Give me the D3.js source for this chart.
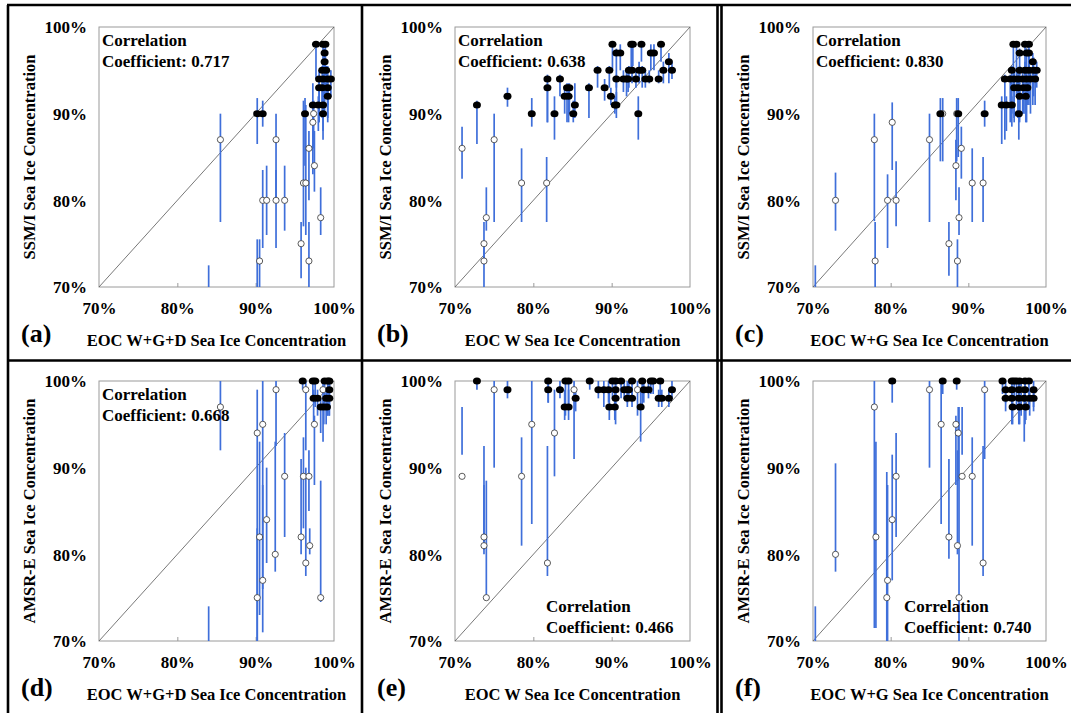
<!DOCTYPE html>
<html>
<head>
<meta charset="utf-8">
<script src="https://cdn.jsdelivr.net/npm/d3@7"></script>
<style>
  html, body { margin: 0; padding: 0; background: #fff; }
  svg { display: block; }
  text { font-family: "Liberation Serif", "Times New Roman", serif; font-weight: bold; fill: #000; }
</style>
</head>
<body>
<svg id="chart" width="1071" height="713"></svg>
<script>
// ---------- DATA ----------
// each record: [EOC concentration %, satellite concentration %, error-bar low %, error-bar high %, filled (1) / open (0)]
const tickValues = [70, 80, 90, 100];
const tickLabels = ["70%", "80%", "90%", "100%"];

const yTitles = ["SSM/I Sea Ice Concentration", "AMSR-E Sea Ice Concentration"];
const xTitles = ["EOC W+G+D Sea Ice Concentration", "EOC W Sea Ice Concentration", "EOC W+G Sea Ice Concentration"];
const panelLabels = ["(a)", "(b)", "(c)", "(d)", "(e)", "(f)"];
const correlations = ["0.717", "0.638", "0.830", "0.668", "0.466", "0.740"];

const ssmiWGD = [
  [85.5,87,77.5,90,0],[92.6,87,80,90,0],[97.4,90,86,91.5,0],[97.3,89,83,91,0],[96.8,86,80,88,0],
  [97.5,84,81,88,0],[96.1,82,77,91.5,0],[96.4,82,76,91,0],[90.9,80,74.5,83.5,0],[91.4,80,76,84,0],
  [92.6,80,74.5,83.5,0],[93.7,80,76.5,84,0],[98.3,78,76,81.5,0],[95.8,75,71,77.5,0],[90.5,73,70,75.5,0],
  [96.8,73,70,77.5,0],[84.0,68,66,72.5,0],[90.2,68,66,75.5,0],
  [90.2,90,86.5,91.8,1],[90.9,90,88.5,91.5,1],[96.3,90,84,91.8,1],[97.7,98,94,98,1],[98.6,98,95,98,1],
  [98.9,98,93,98,1],[98.8,97,92,97.5,1],[98.8,96,90,96.5,1],[98.5,95,91,95.5,1],[99.0,95,92,95.5,1],
  [98.1,94,89,95,1],[98.6,94,90,95,1],[99.2,94,91,95.5,1],[99.6,94,92,95,1],[98.1,93,89,94,1],
  [98.5,93,89.5,94,1],[99.2,93,89,94,1],[99.2,92,89.5,93,1],[97.3,91,86,93.5,1],[98.0,91,88,92,1],
  [98.6,91,87,92.5,1],[98.6,90,88,91,1]
];

const ssmiW = [
  [70.9,86,82.5,88.5,0],[75.0,87,77.5,90,0],[74.0,78,76.5,81.5,0],[73.7,75,73,77.5,0],[73.7,73,70,75,0],
  [78.5,82,77.5,86,0],[81.7,82,77.5,85,0],
  [72.8,91,86.5,91.5,1],[76.7,92,90.8,93,1],[79.8,90,88.5,91.8,1],[81.8,94,89,94.5,1],[81.8,93,89,93.5,1],
  [82.7,90,87,92,1],[83.4,94,92,94.5,1],[84.0,92,90,93,1],[84.5,92,89,93.5,1],[84.3,93,89,93.5,1],
  [84.6,93,90,93.5,1],[85.1,90,89,91.5,1],[85.3,91,89.5,93.5,1],[87.1,93,89.5,93.5,1],[88.2,95,93,95.5,1],
  [89.1,93,91.5,94,1],[89.7,95,93,95.5,1],[89.9,92,91,93,1],[90.1,98,95,98,1],[90.6,97,93,97.5,1],
  [91.1,97,95,98,1],[90.4,91,90,92,1],[90.6,91,90.5,92.5,1],[90.6,94,89.5,94.5,1],[91.5,94,92.5,95,1],
  [91.9,94,92,95,1],[92.1,94,92.5,95,1],[92.2,95,93,95.5,1],[92.6,95,93.5,96,1],[92.5,98,95,98,1],
  [92.7,98,95.5,98,1],[93.1,94,93,95,1],[93.4,90,87,92,1],[93.8,98,96,98,1],[93.5,95,93.5,96,1],
  [93.9,95,93,95.5,1],[94.3,94,93,95,1],[94.8,94,93.5,95,1],[95.0,97,95,98,1],[95.4,97,95,98,1],
  [96.0,94,93.5,95,1],[96.3,98,96,98,1],[96.6,95,93.5,96,1],[97.3,96,93.5,97,1],[97.7,95,94,96,1]
];

const ssmiWG = [
  [72.9,80,76.5,83.2,0],[77.9,87,77.6,90,0],[78.0,73,70,77.5,0],[79.6,80,74.5,83,0],[80.7,80,77,84.5,0],
  [80.2,89,83.5,91.3,0],[85.0,87,77.5,90,0],[86.7,90,84.5,91.8,0],[87.5,75,71.3,77.5,0],[88.4,84,80,87,0],
  [88.5,90,84.5,91.8,0],[88.6,73,70,75.5,0],[88.8,78,76,81.5,0],[89.1,86,82.5,88.5,0],[90.5,82,77.5,86,0],
  [91.9,82,77.5,85,0],[70.3,68,66,72.5,0],
  [86.4,90,84.5,91.8,1],[88.7,90,85,91.8,1],[92.1,90,88.5,91.5,1],[95.8,98,93,98,1],[96.2,98,92,98,1],
  [97.3,98,94,98,1],[97.8,98,95,98,1],[96.6,97,90,97.5,1],[97.5,97,92,97.5,1],[97.8,97,92,97.5,1],
  [98.3,96,91,97,1],[95.6,95,90,95.5,1],[96.6,95,89.5,95.5,1],[97.3,95,90,96,1],[97.8,95,91,96,1],
  [98.4,95,92,96.5,1],[98.8,95,93,96,1],[94.7,94,87,94.5,1],[95.4,94,89,94.5,1],[95.9,94,89,95,1],
  [96.4,94,89.5,95,1],[97.0,94,90,95,1],[97.5,94,89,95,1],[98.0,94,90,95,1],[98.6,94,91,95,1],
  [95.9,93,89.5,94,1],[96.4,93,89.5,94,1],[97.1,93,90,94,1],[97.6,93,91,94,1],[96.6,92,89,93,1],
  [97.4,92,89,93,1],[94.3,91,86.5,92,1],[94.9,91,88,92,1],[95.6,91,88.5,92,1],[96.5,90,87,91,1]
];

const amsrWGD = [
  [85.5,97,92,100,0],[90.2,94,70,99,0],[90.9,95,71,100,0],[90.5,82,73,93,0],[90.2,75,70,83,0],
  [90.9,77,76,88,0],[91.4,84,79,90,0],[92.6,99,92.5,100,0],[92.5,80,78,93,0],[93.7,89,82,94,0],
  [95.8,82,80,91,0],[96.1,89,83,93.5,0],[96.4,99,92,100,0],[96.4,79,77.5,90,0],[96.8,89,85,92,0],
  [96.9,81,80,83,0],[97.5,95,88,96,0],[98.3,75,74.5,88.5,0],[98.6,99,93,100,0],[84.0,68,66,74,0],
  [96.0,100,99,100,1],[97.3,100,98,100,1],[97.6,100,97,100,1],[98.8,100,97,100,1],[99.2,100,96,100,1],
  [99.4,100,97,100,1],[99.4,99,96,100,1],[97.4,98,95,99,1],[97.9,98,96,99,1],[99.0,98,95,99,1],
  [99.4,98,96,99,1],[98.3,97,94,98,1],[98.7,97,95,98,1],[99.1,97,96,98,1]
];

const amsrW = [
  [70.9,89,91.5,97,0],[75.0,99,90,100,0],[73.7,82,80,92.5,0],[73.7,81,80.5,88,0],[74.0,75,75,88.5,0],
  [78.5,89,81,93.5,0],[79.8,95,83.5,100,0],[81.8,79,77.5,92.5,0],[82.7,94,89,99,0],[85.2,99,91,100,0],
  [93.3,99,96,100,0],
  [72.8,100,99,100,1],[76.7,99,98,100,1],[81.9,100,97.5,100,1],[81.9,99,97.5,100,1],[83.4,99,98,100,1],
  [84.1,100,96,100,1],[84.5,100,97,100,1],[84.0,97,95.5,99,1],[84.5,97,95.5,99,1],[85.4,98,96.5,99,1],
  [87.2,100,99,100,1],[88.3,99,98,100,1],[89.0,99,97,100,1],[89.6,99,97.5,100,1],[89.7,97,95.5,99,1],
  [90.4,97,95.5,99,1],[90.1,100,98,100,1],[90.5,100,98,100,1],[91.2,100,98,100,1],[90.5,99,97,100,1],
  [90.5,98,95,99,1],[91.6,99,98,100,1],[92.0,99,97.5,100,1],[92.2,99,98,100,1],[92.0,98,97,99,1],
  [92.6,98,97,99,1],[92.6,100,98,100,1],[93.9,100,97,100,1],[93.7,97,93,99,1],[94.1,99,97.5,100,1],
  [94.7,99,98,100,1],[95.0,100,98.5,100,1],[95.3,100,98.5,100,1],[96.2,100,98,100,1],[96.0,98,97,99,1],
  [96.4,98,97,99,1],[97.3,98,97,99,1],[97.7,99,98,100,1]
];

const amsrWG = [
  [72.9,80,78,90.5,0],[77.9,97,71.5,100,0],[78.1,82,71.5,93,0],[79.5,75,70,89.5,0],[79.6,77,70,88,0],
  [80.2,84,77,91.5,0],[80.7,89,82,94,0],[85.0,99,90,100,0],[86.5,95,83.5,100,0],[87.5,82,79.5,91,0],
  [88.4,95,88,96,0],[88.7,94,88.5,97,0],[88.6,81,80,92,0],[88.8,75,70,97,0],[89.2,89,91.5,97,0],
  [90.5,89,81,93.5,0],[91.9,79,77.5,92.5,0],[92.1,99,91,100,0],[70.3,68,66,74,0],[96.8,99,96,100,0],
  [80.2,100,97.5,100,1],[86.7,100,98.5,100,1],[88.5,100,99,100,1],[94.4,100,98.5,100,1],[95.6,100,98,100,1],
  [95.9,100,98,100,1],[96.2,100,97,100,1],[96.6,100,97,100,1],[97.3,100,96,100,1],[97.8,100,97,100,1],
  [94.8,99,97.5,100,1],[95.6,99,96,100,1],[96.5,99,95,100,1],[97.3,99,95,100,1],[98.4,99,97,100,1],
  [94.8,98,96.5,99,1],[95.6,98,95,99,1],[96.5,98,95.5,99,1],[97.2,98,93,99,1],[97.9,98,96,99,1],
  [98.4,98,96.5,99,1],[95.7,97,95,98,1],[96.6,97,95,98,1],[97.4,97,95.5,98,1]
];

const panelData = [ssmiWGD, ssmiW, ssmiWG, amsrWGD, amsrW, amsrWG];

// ---------- LAYOUT ----------
const svg = d3.select("#chart");
svg.append("rect").attr("width", 1071).attr("height", 713).attr("fill", "#fff");

const colLeft = [99, 455, 813];
const colWidth = [235, 235, 233];
const rowTop = [27, 381];
const plotH = 260;
const corrBottom = [false, false, false, false, true, true];

panelData.forEach((data, i) => {
  const col = i % 3, row = Math.floor(i / 3);
  const L = colLeft[col], T = rowTop[row], Wd = colWidth[col];
  const x = d3.scaleLinear().domain([70, 100]).range([L, L + Wd]).clamp(true);
  const y = d3.scaleLinear().domain([70, 100]).range([T + plotH, T]).clamp(true);
  const g = svg.append("g");

  // plot frame
  g.append("rect").attr("x", L).attr("y", T).attr("width", Wd).attr("height", plotH)
    .attr("fill", "none").attr("stroke", "#9a9a9a").attr("stroke-width", 1);

  // x axis: inner ticks + labels
  const xAxis = d3.axisBottom(x).tickValues(tickValues).tickSizeInner(-4).tickSizeOuter(0)
    .tickFormat((d, k) => tickLabels[k]).tickPadding(16);
  const xg = g.append("g").attr("transform", `translate(0,${T + plotH})`).call(xAxis);
  xg.select(".domain").remove();
  xg.selectAll(".tick line").attr("stroke", "#9a9a9a")
    .filter(d => d === 70 || d === 100).remove();
  xg.selectAll(".tick text").attr("font-size", 17).attr("font-family", "Liberation Serif, serif")
    .attr("font-weight", "bold").attr("fill", "#000").attr("dy", "0.62em");

  // y axis labels
  const yAxis = d3.axisLeft(y).tickValues(tickValues).tickSize(0)
    .tickFormat((d, k) => tickLabels[k]).tickPadding(12);
  const yg = g.append("g").attr("transform", `translate(${L},0)`).call(yAxis);
  yg.select(".domain").remove();
  yg.selectAll(".tick text").attr("font-size", 17).attr("font-family", "Liberation Serif, serif")
    .attr("font-weight", "bold").attr("fill", "#000").attr("dy", "0.34em");

  // 1:1 diagonal
  g.append("line").attr("x1", x(70)).attr("y1", y(70)).attr("x2", x(100)).attr("y2", y(100))
    .attr("stroke", "#555").attr("stroke-width", 0.8);

  // error bars
  g.selectAll("line.err").data(data).join("line").attr("class", "err")
    .attr("x1", d => x(d[0])).attr("x2", d => x(d[0]))
    .attr("y1", d => y(d[2])).attr("y2", d => y(d[3]))
    .attr("stroke", "#3f6fda").attr("stroke-width", 1.7);

  // points (only those inside the axis range)
  const visible = data.filter(d => d[1] >= 70 && d[1] <= 100);
  g.selectAll("ellipse.open").data(visible.filter(d => !d[4])).join("ellipse").attr("class", "open")
    .attr("cx", d => x(d[0])).attr("cy", d => y(d[1])).attr("rx", 3.1).attr("ry", 3.1)
    .attr("fill", "#fff").attr("stroke", "#333").attr("stroke-width", 0.8);
  g.selectAll("ellipse.fill").data(visible.filter(d => d[4])).join("ellipse").attr("class", "fill")
    .attr("cx", d => x(d[0])).attr("cy", d => y(d[1])).attr("rx", 4).attr("ry", 3.5)
    .attr("fill", "#000");

  // correlation text
  const cx = corrBottom[i] ? L + 91 : L + 3;
  const cy = corrBottom[i] ? T + 231 : T + 19;
  g.append("text").attr("x", cx).attr("y", cy).attr("font-size", 17).text("Correlation");
  g.append("text").attr("x", cx).attr("y", cy + 21).attr("font-size", 17).text("Coefficient: " + correlations[i]);

  // axis titles
  g.append("text").attr("x", L + Wd / 2).attr("y", T + plotH + 59).attr("text-anchor", "middle")
    .attr("font-size", 16.5).text(xTitles[col]);
  g.append("text").attr("transform", `translate(${L - 64},${T + plotH / 2}) rotate(-90)`)
    .attr("text-anchor", "middle").attr("font-size", 16.5).text(yTitles[row]);

  // panel label
  g.append("text").attr("x", L - 78).attr("y", T + plotH + 55).attr("font-size", 26).text(panelLabels[i]);
});

// ---------- FRAME LINES ----------
const frame = [
  [8, 5, 8, 713], [7, 5, 1071, 5], [362, 5, 362, 713], [717.5, 5, 717.5, 713], [721.5, 5, 721.5, 713],
  [7, 360.5, 1071, 360.5]
];
svg.selectAll("line.frame").data(frame).join("line").attr("class", "frame")
  .attr("x1", d => d[0]).attr("y1", d => d[1]).attr("x2", d => d[2]).attr("y2", d => d[3])
  .attr("stroke", "#000").attr("stroke-width", 2.6);
</script>
</body>
</html>
